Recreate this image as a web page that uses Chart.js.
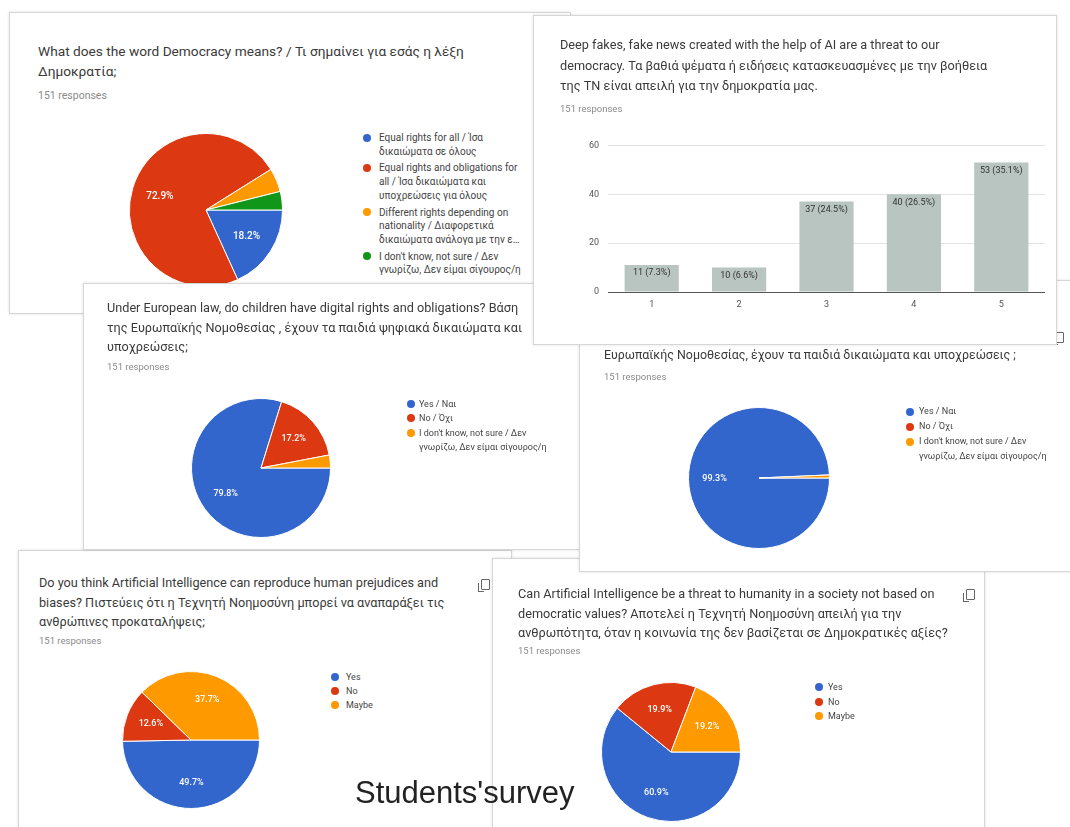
<!DOCTYPE html>
<html>
<head>
<meta charset="utf-8">
<script src="https://cdn.jsdelivr.net/npm/chart.js@4.4.1/dist/chart.umd.min.js"></script>
<style>
body { margin: 0; background: #fff; font-family: Roboto, Arial, sans-serif; }
#page { position: relative; width: 1070px; height: 827px; overflow: hidden; background: #fff; }
.card { position: absolute; background: #fff; border: 1px solid #d6d6d6; box-shadow: 0 0 3px rgba(0,0,0,0.12); }
.card > * { position: absolute; }
.title { color: #3a3a3a; white-space: nowrap; font-size: 12.7px; }
.resp { font-size: 9.5px; line-height: 12px; color: #8a8a8a; white-space: nowrap; }
.legend { font-size: 9px; color: #444; }
.legend .item { display: flex; align-items: flex-start; }
.legend .dot { width: 8px; height: 8px; border-radius: 50%; flex: none; }
.copy { width: 7px; height: 9px; border: 1.5px solid #666; border-radius: 1px; }
.copy:before { content: ""; position: absolute; left: -4px; top: 3px; width: 5px; height: 8px; border-left: 1.5px solid #666; border-bottom: 1.5px solid #666; }
#caption { position: absolute; left: 355px; top: 774px; font-family: "Liberation Sans", Arial, sans-serif; font-size: 31px; line-height: 38px; color: #222; z-index: 20; white-space: nowrap; }
</style>
</head>
<body>
<div id="page">

  <div class="card" style="left:9px;top:12px;width:560px;height:300px;z-index:1">
    <div class="title" style="left:28px;top:28px;font-size:13.7px;line-height:20px">What does the word Democracy means? / Τι σημαίνει για εσάς η λέξη<br>Δημοκρατία;</div>
    <div class="resp" style="left:28px;top:77px;font-size:10.5px">151 responses</div>
    <canvas id="pie1" width="154" height="154" style="left:119px;top:120px"></canvas>
    <div class="legend" id="leg1" style="left:353px;top:118px;font-size:10px"></div>
  </div>

  <div class="card" style="left:18px;top:550px;width:492px;height:290px;z-index:2">
    <div class="title" style="left:20px;top:22px;line-height:19.5px">Do you think Artificial Intelligence can reproduce human prejudices and<br>biases? Πιστεύεις ότι η Τεχνητή Νοημοσύνη μπορεί να αναπαράξει τις<br>ανθρώπινες προκαταλήψεις;</div>
    <div class="resp" style="left:20px;top:84px">151 responses</div>
    <div class="copy" style="left:462px;top:28px"></div>
    <canvas id="pie5" width="138" height="138" style="left:103px;top:120px"></canvas>
    <div class="legend" id="leg5" style="left:312px;top:119px"></div>
  </div>

  <div class="card" style="left:83px;top:283px;width:540px;height:265px;z-index:3">
    <div class="title" style="left:23px;top:14px;line-height:19.5px">Under European law, do children have digital rights and obligations? Βάση<br>της Ευρωπαϊκής Νομοθεσίας , έχουν τα παιδιά ψηφιακά δικαιώματα και<br>υποχρεώσεις;</div>
    <div class="resp" style="left:23px;top:77px">151 responses</div>
    <canvas id="pie3" width="140" height="140" style="left:107px;top:114px"></canvas>
    <div class="legend" id="leg3" style="left:323px;top:113px"></div>
  </div>

  <div class="card" style="left:492px;top:558px;width:491px;height:290px;z-index:4">
    <div class="title" style="left:25px;top:25px;line-height:19.5px">Can Artificial Intelligence be a threat to humanity in a society not based on<br>democratic values? Αποτελεί η Τεχνητή Νοημοσύνη απειλή για την<br>ανθρωπότητα, όταν η κοινωνία της δεν βασίζεται σε Δημοκρατικές αξίες?</div>
    <div class="resp" style="left:25px;top:86px">151 responses</div>
    <div class="copy" style="left:473px;top:30px"></div>
    <canvas id="pie6" width="140" height="140" style="left:108px;top:123px"></canvas>
    <div class="legend" id="leg6" style="left:322px;top:121px"></div>
  </div>

  <div class="card" style="left:579px;top:280px;width:500px;height:290px;z-index:5">
    <div class="title" style="left:24px;top:41.5px;font-size:12.4px;line-height:21px">Under European law, do children have rights and obligations? Βάση της<br>Ευρωπαϊκής Νομοθεσίας, έχουν τα παιδιά δικαιώματα και υποχρεώσεις ;</div>
    <div class="resp" style="left:24px;top:90px">151 responses</div>
    <div class="copy" style="left:475px;top:51px"></div>
    <canvas id="pie4" width="142" height="142" style="left:108px;top:126px"></canvas>
    <div class="legend" id="leg4" style="left:326px;top:123px"></div>
  </div>

  <div class="card" style="left:533px;top:15px;width:522px;height:328px;z-index:6">
    <div class="title" style="left:26px;top:19px;line-height:20.5px">Deep fakes, fake news created with the help of AI are a threat to our<br>democracy. Τα βαθιά ψέματα ή ειδήσεις κατασκευασμένες με την βοήθεια<br>της ΤΝ είναι απειλή για την δημοκρατία μας.</div>
    <div class="resp" style="left:26px;top:87px">151 responses</div>
    <canvas id="bar2" width="470" height="183" style="left:47px;top:115px"></canvas>
  </div>

  <div id="caption">Students'survey</div>
</div>

<script>
// colours used by the survey charts
const googleColors = ['#3366cc', '#dc3912', '#ff9900', '#109618'];

// 1. What does the word Democracy means?
const democracyLabels = [
    'Equal rights for all / Ίσα δικαιώματα σε όλους',
    'Equal rights and obligations for all / Ίσα δικαιώματα και υποχρεώσεις για όλους',
    'Different rights depending on nationality / Διαφορετικά δικαιώματα ανάλογα με την ε…',
    "I don't know, not sure / Δεν γνωρίζω, Δεν είμαι σίγουρος/η"
];
const democracyValues = [18.2, 72.9, 5.0, 3.9];

// 2. Deep fakes (linear scale 1-5)
const deepfakeLabels = ['1', '2', '3', '4', '5'];
const deepfakeCounts = [11, 10, 37, 40, 53];
const deepfakePercents = [7.3, 6.6, 24.5, 26.5, 35.1];
const deepfakeTicks = [0, 20, 40, 60];

// 3. Digital rights and obligations
const digitalLabels = ['Yes / Ναι', 'No / Όχι', "I don't know, not sure / Δεν γνωρίζω, Δεν είμαι σίγουρος/η"];
const digitalValues = [79.8, 17.2, 3.0];

// 4. Rights and obligations
const rightsLabels = ['Yes / Ναι', 'No / Όχι', "I don't know, not sure / Δεν γνωρίζω, Δεν είμαι σίγουρος/η"];
const rightsValues = [99.3, 0, 0.7];

// 5. AI reproduces prejudices
const biasLabels = ['Yes', 'No', 'Maybe'];
const biasValues = [49.7, 12.6, 37.7];

// 6. AI threat to humanity
const threatLabels = ['Yes', 'No', 'Maybe'];
const threatValues = [60.9, 19.9, 19.2];

Chart.defaults.font.family = 'Roboto, Arial, sans-serif';
Chart.defaults.animation = false;

// percentage text inside the slices (small slices get none)
const sliceLabels = {
    id: 'sliceLabels',
    afterDatasetsDraw(chart, args, opts) {
        const ctx = chart.ctx;
        const values = chart.data.datasets[0].data;
        const total = values.reduce((a, b) => a + b, 0);
        ctx.save();
        ctx.fillStyle = '#fff';
        ctx.font = '500 ' + opts.size + 'px Roboto';
        ctx.textAlign = 'center';
        ctx.textBaseline = 'middle';
        chart.getDatasetMeta(0).data.forEach((arc, i) => {
            const pct = values[i] / total * 100;
            if (pct < 6) return;
            const mid = (arc.startAngle + arc.endAngle) / 2;
            const r = arc.outerRadius * 0.63;
            ctx.fillText(values[i].toFixed(1) + '%', arc.x + Math.cos(mid) * r, arc.y + Math.sin(mid) * r);
        });
        ctx.restore();
    }
};

function drawPie(canvasId, labels, values, labelSize) {
    const ctx = document.getElementById(canvasId).getContext('2d');
    return new Chart(ctx, {
        type: 'pie',
        data: {
            labels: labels,
            datasets: [{
                data: values,
                backgroundColor: googleColors.slice(0, values.length),
                borderColor: '#fff',
                borderWidth: 1
            }]
        },
        options: {
            responsive: false,
            rotation: 90,
            layout: { padding: 0 },
            plugins: {
                legend: { display: false },
                tooltip: { enabled: false },
                sliceLabels: { size: labelSize }
            }
        },
        plugins: [sliceLabels]
    });
}

function buildLegend(chart, legendId, textWidth, lineHeight, gap, itemGap) {
    const box = document.getElementById(legendId);
    const colors = chart.data.datasets[0].backgroundColor;
    chart.data.labels.forEach((label, i) => {
        const item = document.createElement('div');
        item.className = 'item';
        item.style.lineHeight = lineHeight + 'px';
        item.style.marginBottom = itemGap + 'px';
        const dot = document.createElement('span');
        dot.className = 'dot';
        dot.style.background = colors[i];
        dot.style.marginTop = ((lineHeight - 8) / 2) + 'px';
        dot.style.marginRight = gap + 'px';
        const text = document.createElement('span');
        text.textContent = label;
        text.style.width = textWidth + 'px';
        item.appendChild(dot);
        item.appendChild(text);
        box.appendChild(item);
    });
}

const pie1 = drawPie('pie1', democracyLabels, democracyValues, 10);
buildLegend(pie1, 'leg1', 146, 13.7, 8, 3);

const pie3 = drawPie('pie3', digitalLabels, digitalValues, 9);
buildLegend(pie3, 'leg3', 130, 14.3, 4, 0);

const pie4 = drawPie('pie4', rightsLabels, rightsValues, 9);
buildLegend(pie4, 'leg4', 130, 15, 5, 0);

const pie5 = drawPie('pie5', biasLabels, biasValues, 9);
buildLegend(pie5, 'leg5', 80, 14, 7, 0);

const pie6 = drawPie('pie6', threatLabels, threatValues, 9);
buildLegend(pie6, 'leg6', 80, 14.5, 5, 0);

// count and percentage written at the top of each bar
const barLabels = {
    id: 'barLabels',
    afterDatasetsDraw(chart) {
        const ctx = chart.ctx;
        ctx.save();
        ctx.fillStyle = '#333';
        ctx.font = '9px Roboto';
        ctx.textAlign = 'center';
        ctx.textBaseline = 'middle';
        chart.getDatasetMeta(0).data.forEach((bar, i) => {
            ctx.fillText(deepfakeCounts[i] + ' (' + deepfakePercents[i].toFixed(1) + '%)', bar.x, bar.y + 8);
        });
        ctx.restore();
    }
};

new Chart(document.getElementById('bar2').getContext('2d'), {
    type: 'bar',
    data: {
        labels: deepfakeLabels,
        datasets: [{
            data: deepfakeCounts,
            backgroundColor: '#b9c5c0',
            categoryPercentage: 0.62,
            barPercentage: 1
        }]
    },
    options: {
        responsive: false,
        layout: { padding: { top: 13, right: 6, left: 0, bottom: 0 } },
        plugins: { legend: { display: false }, tooltip: { enabled: false } },
        scales: {
            x: {
                grid: { display: false, drawTicks: false },
                border: { display: false },
                ticks: { color: '#555', font: { size: 9 }, padding: 7 },
                afterFit: s => { s.height = 22; }
            },
            y: {
                min: deepfakeTicks[0],
                max: deepfakeTicks[deepfakeTicks.length - 1],
                afterBuildTicks: s => { s.ticks = deepfakeTicks.map(v => ({ value: v })); },
                grid: {
                    drawTicks: false,
                    color: c => c.tick && c.tick.value === 0 ? '#555' : '#e3e3e3'
                },
                border: { display: false },
                ticks: { color: '#555', font: { size: 9 }, padding: 9 },
                afterFit: s => { s.width = 27; }
            }
        }
    },
    plugins: [barLabels]
});
</script>
</body>
</html>
